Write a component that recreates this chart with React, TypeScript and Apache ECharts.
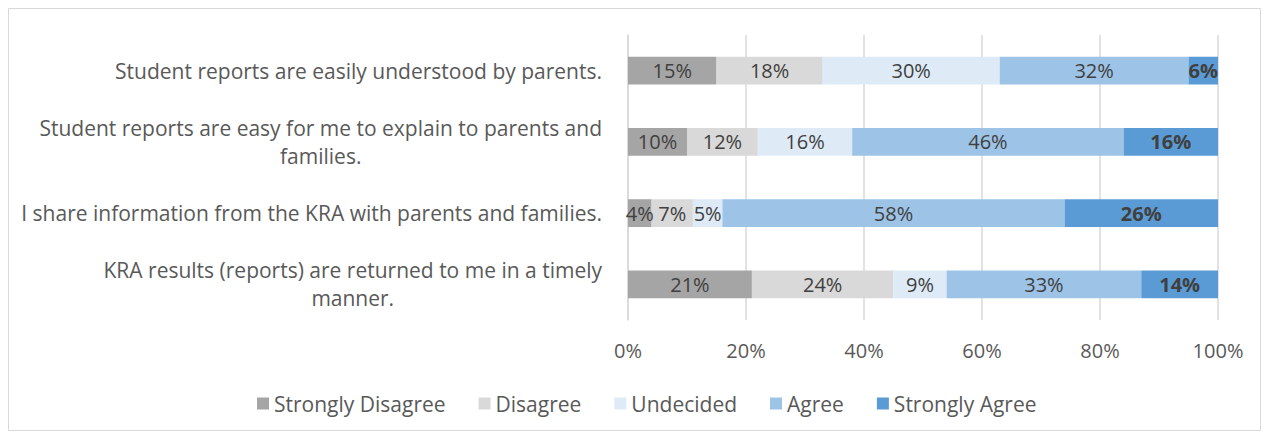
import React, { useEffect, useRef } from "react";
import * as echarts from "echarts";

const categories = [
  "Student reports are easily understood by parents.",
  "Student reports are easy for me to explain to parents and\nfamilies.",
  "I share information from the KRA with parents and families.",
  "KRA results (reports) are returned to me in a timely\nmanner.",
];
const seriesNames = ["Strongly Disagree", "Disagree", "Undecided", "Agree", "Strongly Agree"];
const stronglyDisagree = [15, 10, 4, 21];
const disagree = [18, 12, 7, 24];
const undecided = [30, 16, 5, 9];
const agree = [32, 46, 58, 33];
const stronglyAgree = [6, 16, 26, 14];
const seriesColors = ["#A5A5A5", "#D9D9D9", "#DEEBF7", "#9DC3E6", "#5B9BD5"];
const xTicks = [0, 20, 40, 60, 80, 100];

const FONT = "'Open Sans'";
const FS = 21;
const FS_NUM = 20;

function measure(text: string, size: number): number {
  const c = document.createElement("canvas").getContext("2d");
  if (!c) return text.length * size * 0.5;
  c.font = `${size}px ${FONT}`;
  return c.measureText(text).width;
}

export default function App() {
  const ref = useRef<HTMLDivElement>(null);
  useEffect(() => {
    if (!ref.current) return;
    const chart = echarts.init(ref.current, undefined, { renderer: "svg" });
    const values = [stronglyDisagree, disagree, undecided, agree, stronglyAgree];
    const series = values.map((d, i) => ({
      name: seriesNames[i],
      type: "bar",
      stack: "total",
      data: d,
      barWidth: "39%",
      itemStyle: { color: seriesColors[i] },
      label: {
        show: true,
        position: "inside",
        formatter: (p: any) => `${p.value}%`,
        color: "#404040",
        fontFamily: FONT,
        fontSize: FS_NUM,
        fontWeight: i === 4 ? "bold" : "normal",
      },
    }));
    const rich: Record<string, any> = {
      a: { color: "#595959", fontSize: FS, fontFamily: FONT, lineHeight: 28 },
    };
    categories.forEach((c, idx) => {
      rich["b" + idx] = {
        color: "#595959",
        fontSize: FS,
        fontFamily: FONT,
        lineHeight: 28,
        align: "center",
        width: measure(c.split("\n")[0], FS),
      };
    });
    chart.setOption({
      animation: false,
      textStyle: { fontFamily: FONT },
      graphic: [
        {
          type: "rect",
          shape: { x: 0.5, y: 0.5, width: 1252, height: 422 },
          style: { fill: "none", stroke: "#D9D9D9", lineWidth: 1 },
          silent: true,
        },
      ],
      grid: { left: 620, right: 43, top: 27, bottom: 111, containLabel: false },
      legend: {
        data: seriesNames,
        bottom: 12,
        left: 244,
        itemWidth: 12,
        itemHeight: 12,
        itemGap: 33,
        icon: "rect",
        textStyle: { color: "#595959", fontSize: FS, fontFamily: FONT },
      },
      xAxis: {
        type: "value",
        min: 0,
        max: 100,
        interval: 20,
        axisLine: { show: false },
        axisTick: { show: false },
        splitLine: { lineStyle: { color: "#D9D9D9", width: 1.5 } },
        axisLabel: {
          color: "#595959",
          fontSize: FS_NUM,
          fontFamily: FONT,
          margin: 20,
          formatter: (v: number) => (xTicks.includes(v) ? `${v}%` : ""),
        },
      },
      yAxis: {
        type: "category",
        inverse: true,
        data: categories,
        axisLine: { show: true, lineStyle: { color: "#D9D9D9", width: 1.5 } },
        axisTick: { show: false },
        axisLabel: {
          margin: 26,
          align: "right",
          formatter: (v: string, idx: number) => {
            const lines = v.split("\n");
            return lines.map((l, k) => (k === 0 ? `{a|${l}}` : `{b${idx}|${l}}`)).join("\n");
          },
          rich,
        },
      },
      series,
    });
    return () => chart.dispose();
  }, []);
  return <div ref={ref} style={{ width: 1253, height: 423 }} />;
}
